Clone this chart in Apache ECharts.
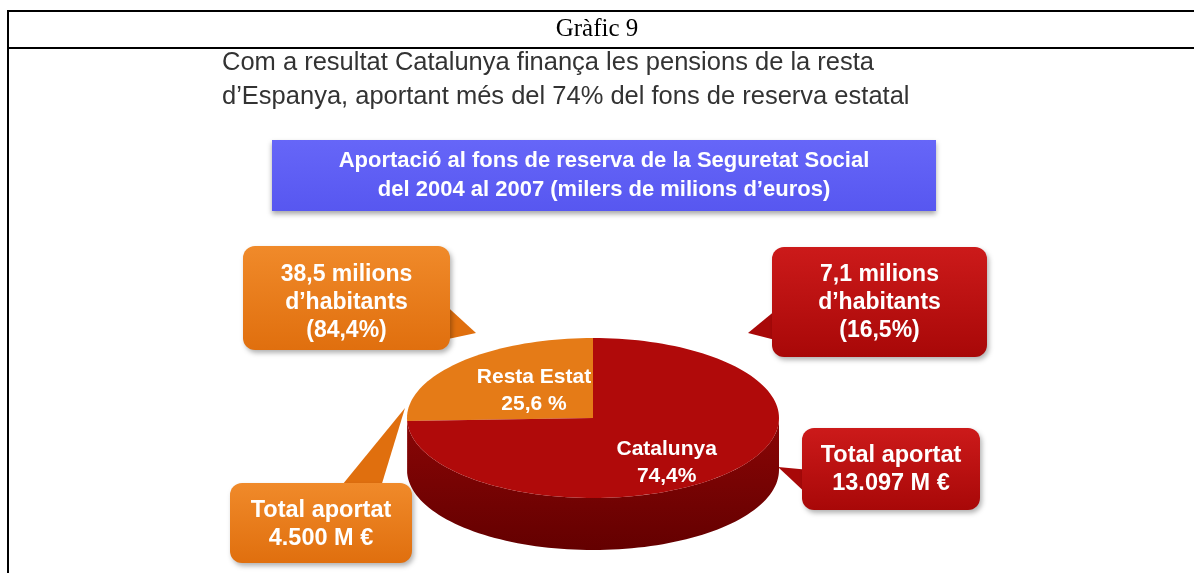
<!DOCTYPE html>
<html>
<head>
<meta charset="utf-8">
<script src="https://cdn.jsdelivr.net/npm/echarts@6/dist/echarts.min.js"></script>
<style>
  html, body { margin: 0; padding: 0; background: #fff; }
  #chart { width: 1194px; height: 573px; }
</style>
</head>
<body>
<div id="chart"></div>
<script>
// dades del gràfic
const categories = ['Resta Estat', 'Catalunya'];
const shares = [25.6, 74.4];
const shareLabels = ['25,6 %', '74,4%'];
const sliceColors = ['#e57b17', '#b00a0a'];
const sideColors = ['#c0620e', '#8a0606'];

const subtitle = [
  'Com a resultat Catalunya finança les pensions de la resta',
  'd\u2019Espanya, aportant més del 74% del fons de reserva estatal'
];
const boxTitle = [
  'Aportació al fons de reserva de la Seguretat Social',
  'del 2004 al 2007 (milers de milions d\u2019euros)'
];
const habitantsResta = ['38,5 milions', 'd\u2019habitants', '(84,4%)'];
const habitantsCat = ['7,1 milions', 'd\u2019habitants', '(16,5%)'];
const aportatResta = ['Total aportat', '4.500 M \u20ac'];
const aportatCat = ['Total aportat', '13.097 M \u20ac'];

const chart = echarts.init(document.getElementById('chart'));
const FONT = '"Liberation Sans", Arial, sans-serif';

// geometria del pastís (el·lipse inclinada)
const pie = { cx: 593, cy: 418, rx: 186, ry: 80, depth: 52 };
const total = shares.reduce((a, b) => a + b, 0);

function pt(deg, dy) {
  const r = deg * Math.PI / 180;
  return [pie.cx + pie.rx * Math.cos(r), pie.cy - pie.ry * Math.sin(r) + (dy || 0)];
}

function arc(a0, a1, dy) {
  const pts = [];
  const n = Math.max(2, Math.ceil(Math.abs(a1 - a0) / 2));
  for (let i = 0; i <= n; i++) pts.push(pt(a0 + (a1 - a0) * i / n, dy));
  return pts;
}

function renderSlice(params, api) {
  const i = params.dataIndex;
  let before = 0;
  for (let k = 0; k < i; k++) before += shares[k];
  const a0 = 90 + before / total * 360;
  const a1 = a0 + api.value(0) / total * 360;
  const children = [];

  // cara lateral (només la part frontal, 180..360)
  const s0 = Math.max(a0, 180), s1 = Math.min(a1, 360);
  if (s1 > s0) {
    const top = arc(s0, s1, 0);
    const bot = arc(s1, s0, pie.depth);
    children.push({
      type: 'polygon',
      shape: { points: top.concat(bot) },
      style: {
        fill: new echarts.graphic.LinearGradient(0, 0, 0, 1, [
          { offset: 0, color: sideColors[i] },
          { offset: 1, color: '#640000' }
        ])
      }
    });
  }

  // cara superior
  const face = [[pie.cx, pie.cy]].concat(arc(a0, a1, 0));
  children.push({
    type: 'polygon',
    shape: { points: face },
    style: { fill: sliceColors[i] }
  });

  // etiqueta
  const mid = (a0 + a1) / 2 * Math.PI / 180;
  const f = i === 0 ? 0.5 : 0.55;
  const lx = pie.cx + pie.rx * f * Math.cos(mid) + (i === 0 ? 8 : 0);
  const ly = pie.cy - pie.ry * f * Math.sin(mid) + (i === 1 ? 14 : 0);
  children.push({
    type: 'text',
    x: lx, y: ly, z2: 100,
    style: {
      text: categories[i] + '\n' + shareLabels[i],
      fill: '#fff', font: 'bold 21px ' + FONT,
      align: 'center', verticalAlign: 'middle', lineHeight: 27
    }
  });
  return { type: 'group', children: children };
}

function bubble(x, y, w, h, tail, lines, color, fs, dy) {
  return {
    type: 'group',
    children: [
      {
        type: 'polygon',
        shape: { points: tail },
        style: { fill: color[1] }
      },
      {
        type: 'rect',
        shape: { x: x, y: y, width: w, height: h, r: 12 },
        style: {
          fill: new echarts.graphic.LinearGradient(0, 0, 0, 1, [
            { offset: 0, color: color[0] },
            { offset: 1, color: color[1] }
          ]),
          shadowBlur: 5, shadowOffsetX: 2, shadowOffsetY: 3,
          shadowColor: 'rgba(0,0,0,0.3)'
        }
      },
      {
        type: 'text',
        x: x + w / 2, y: y + h / 2 + (dy || 0),
        style: {
          text: lines.join('\n'), fill: '#fff', font: 'bold ' + fs + 'px ' + FONT,
          align: 'center', verticalAlign: 'middle', lineHeight: 28
        }
      }
    ]
  };
}

const orange = ['#f08a2a', '#e06f0e'];
const red = ['#cc1a1a', '#a80808'];

const option = {
  animation: false,
  graphic: [
    // marc de taula
    { type: 'line', shape: { x1: 7, y1: 11, x2: 1194, y2: 11 }, style: { stroke: '#000', lineWidth: 2 } },
    { type: 'line', shape: { x1: 7, y1: 48, x2: 1194, y2: 48 }, style: { stroke: '#000', lineWidth: 2 } },
    { type: 'line', shape: { x1: 8, y1: 10, x2: 8, y2: 573 }, style: { stroke: '#000', lineWidth: 2 } },
    {
      type: 'text', x: 597, y: 29,
      style: { text: 'Gràfic 9', font: '25px "Liberation Serif", "Times New Roman", serif', fill: '#000', align: 'center', verticalAlign: 'middle' }
    },
    {
      type: 'text', x: 222, y: 80,
      style: { text: subtitle.join('\n'), font: '25.5px ' + FONT, fill: '#333', verticalAlign: 'middle', lineHeight: 34 }
    },
    {
      type: 'rect', shape: { x: 272, y: 140, width: 664, height: 71 },
      style: {
        fill: new echarts.graphic.LinearGradient(0, 0, 0, 1, [
          { offset: 0, color: '#6666f8' },
          { offset: 1, color: '#5757f0' }
        ]),
        shadowBlur: 5, shadowOffsetY: 3, shadowColor: 'rgba(0,0,0,0.35)'
      }
    },
    {
      type: 'text', x: 604, y: 175,
      style: { text: boxTitle.join('\n'), font: 'bold 22px ' + FONT, fill: '#fff', align: 'center', verticalAlign: 'middle', lineHeight: 29 }
    },
    bubble(243, 246, 207, 104, [[440, 300], [476, 333], [420, 345]], habitantsResta, orange, 23, 5),
    bubble(772, 247, 215, 110, [[782, 305], [748, 333], [795, 345]], habitantsCat, red, 23, 1),
    bubble(230, 483, 182, 80, [[338, 490], [405, 408], [380, 490]], aportatResta, orange, 23.5, 2),
    bubble(802, 428, 178, 82, [[810, 470], [778, 467], [810, 497]], aportatCat, red, 23.5, 1)
  ],
  series: [{
    type: 'custom',
    coordinateSystem: 'none',
    renderItem: renderSlice,
    data: shares.map(v => [v]),
    z: 1
  }]
};

chart.setOption(option);
</script>
</body>
</html>
